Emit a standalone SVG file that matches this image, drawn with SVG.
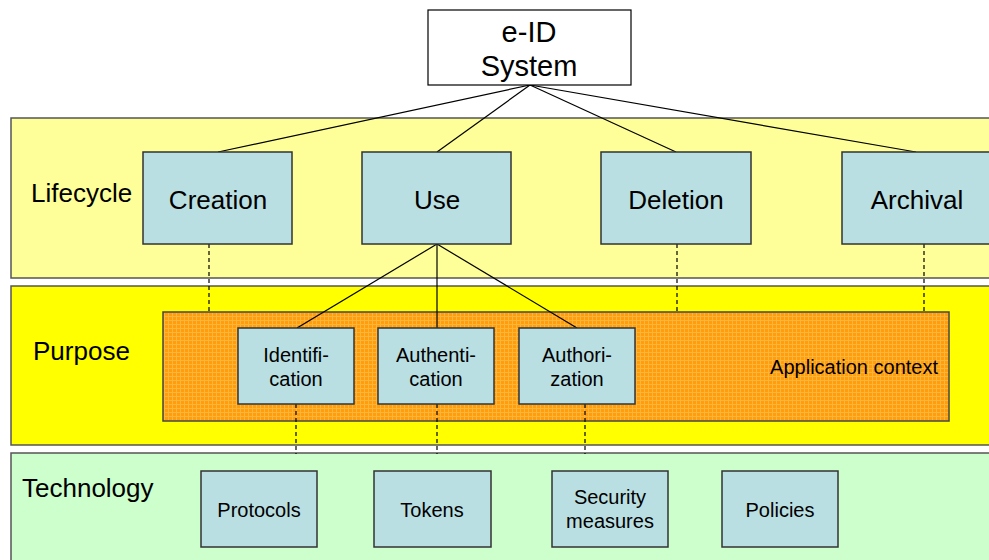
<svg xmlns="http://www.w3.org/2000/svg" width="989" height="560" viewBox="0 0 989 560">
  <defs>
    <pattern id="weave" width="4" height="4" patternUnits="userSpaceOnUse">
      <rect width="4" height="4" fill="#FF9D0A"/>
      <rect x="0" y="0" width="1" height="4" fill="#FFB43C"/>
      <rect x="0" y="0" width="4" height="1" fill="#FFB43C"/>
    </pattern>
    <style>
      .band { stroke: #555; stroke-width: 1.5; }
      .node rect { fill: #B9DFE3; stroke: #333; stroke-width: 1.5; }
      text { font-family: "Liberation Sans", Arial, sans-serif; fill: #000; }
      .root { font-size: 29px; }
      .big { font-size: 26px; }
      .mid { font-size: 20px; }
      .layer { font-size: 26px; }
      .solid { stroke: #000; stroke-width: 1.2; fill: none; }
      .dash { stroke: #000; stroke-width: 1.2; stroke-dasharray: 4 3; fill: none; }
    </style>
  </defs>

  <rect width="989" height="560" fill="#fff"/>

  <!-- layer bands -->
  <g id="layer-lifecycle">
    <rect class="band" x="11" y="118" width="990" height="160" fill="#FFFF99"/>
    <text class="layer" x="31" y="202">Lifecycle</text>
  </g>
  <g id="layer-purpose">
    <rect class="band" x="11" y="286" width="990" height="159" fill="#FFFF00"/>
    <text class="layer" x="33" y="360">Purpose</text>
  </g>
  <g id="layer-technology">
    <rect class="band" x="11" y="453" width="990" height="120" fill="#CCFFCC"/>
    <text class="layer" x="22" y="497">Technology</text>
  </g>

  <g id="application-context">
    <rect x="163" y="312" width="786" height="109" fill="url(#weave)" stroke="#444" stroke-width="1.5"/>
    <text class="mid" x="938" y="374" text-anchor="end">Application context</text>
  </g>

  <!-- connectors -->
  <g id="connectors">
    <line class="solid" x1="530" y1="85" x2="218" y2="152"/>
    <line class="solid" x1="530" y1="85" x2="437" y2="152"/>
    <line class="solid" x1="530" y1="85" x2="676" y2="152"/>
    <line class="solid" x1="530" y1="85" x2="916" y2="152"/>
    <line class="solid" x1="437" y1="244" x2="297" y2="328"/>
    <line class="solid" x1="437" y1="244" x2="437" y2="328"/>
    <line class="solid" x1="437" y1="244" x2="577" y2="328"/>
    <line class="dash" x1="209" y1="244" x2="209" y2="312"/>
    <line class="dash" x1="677" y1="244" x2="677" y2="312"/>
    <line class="dash" x1="924" y1="244" x2="924" y2="312"/>
    <line class="dash" x1="296" y1="404" x2="296" y2="454"/>
    <line class="dash" x1="437" y1="404" x2="437" y2="454"/>
    <line class="dash" x1="585" y1="404" x2="585" y2="454"/>
  </g>

  <!-- root -->
  <g id="eid-system">
    <rect x="428" y="10" width="203" height="75" fill="#fff" stroke="#000" stroke-width="1.2"/>
    <text class="root" x="529" y="42" text-anchor="middle">e-ID</text>
    <text class="root" x="529" y="76" text-anchor="middle">System</text>
  </g>

  <!-- lifecycle nodes -->
  <g id="creation" class="node">
    <rect x="143" y="152" width="149" height="92"/>
    <text class="big" x="218" y="209" text-anchor="middle">Creation</text>
  </g>
  <g id="use" class="node">
    <rect x="362" y="152" width="149" height="92"/>
    <text class="big" x="437" y="209" text-anchor="middle">Use</text>
  </g>
  <g id="deletion" class="node">
    <rect x="601" y="152" width="150" height="92"/>
    <text class="big" x="676" y="209" text-anchor="middle">Deletion</text>
  </g>
  <g id="archival" class="node">
    <rect x="842" y="152" width="150" height="92"/>
    <text class="big" x="917" y="209" text-anchor="middle">Archival</text>
  </g>

  <!-- purpose nodes -->
  <g id="identification" class="node">
    <rect x="238" y="328" width="116" height="76"/>
    <text class="mid" x="296" y="362" text-anchor="middle">Identifi-</text>
    <text class="mid" x="296" y="386" text-anchor="middle">cation</text>
  </g>
  <g id="authentication" class="node">
    <rect x="378" y="328" width="116" height="76"/>
    <text class="mid" x="436" y="362" text-anchor="middle">Authenti-</text>
    <text class="mid" x="436" y="386" text-anchor="middle">cation</text>
  </g>
  <g id="authorization" class="node">
    <rect x="519" y="328" width="116" height="76"/>
    <text class="mid" x="577" y="362" text-anchor="middle">Authori-</text>
    <text class="mid" x="577" y="386" text-anchor="middle">zation</text>
  </g>

  <!-- technology nodes -->
  <g id="protocols" class="node">
    <rect x="201" y="471" width="116" height="76"/>
    <text class="mid" x="259" y="517" text-anchor="middle">Protocols</text>
  </g>
  <g id="tokens" class="node">
    <rect x="374" y="471" width="117" height="76"/>
    <text class="mid" x="432" y="517" text-anchor="middle">Tokens</text>
  </g>
  <g id="security-measures" class="node">
    <rect x="552" y="471" width="116" height="76"/>
    <text class="mid" x="610" y="504" text-anchor="middle">Security</text>
    <text class="mid" x="610" y="528" text-anchor="middle">measures</text>
  </g>
  <g id="policies" class="node">
    <rect x="722" y="471" width="116" height="76"/>
    <text class="mid" x="780" y="517" text-anchor="middle">Policies</text>
  </g>
</svg>
